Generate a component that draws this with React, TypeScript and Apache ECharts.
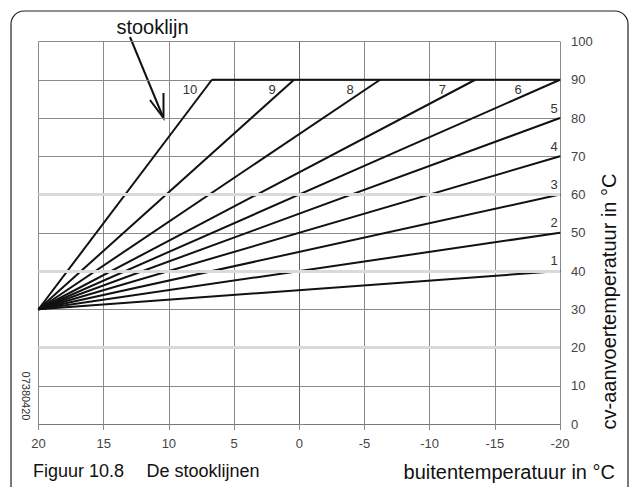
import React, { useEffect, useRef } from "react";
import * as echarts from "echarts";

// ---- data ----
const curveNames = ["1", "2", "3", "4", "5", "6", "7", "8", "9", "10"];
const startOutdoor = 20; // °C outdoor where all curves start
const startFlow = 30; // °C flow temperature at start
const curveEndOutdoor = [-20, -20, -20, -20, -20, -20, -13.5, -6.2, 0.4, 6.7];
const curveEndFlow = [40, 50, 60, 70, 80, 90, 90, 90, 90, 90];
const maxFlow = 90;
const plateauEndOutdoor = -20;
const xTicks = [20, 15, 10, 5, 0, -5, -10, -15, -20];
const yTicks = [0, 10, 20, 30, 40, 50, 60, 70, 80, 90, 100];
const lightRows = [20, 40, 60];

// ---- styles ----
const labelOffsets: [number, number][] = [
  [-6, -11],
  [-6, -10],
  [-6, -10],
  [-6, -10],
  [-6, -10],
  [-42, 10],
  [-33, 10],
  [-30, 10],
  [-22, 10],
  [-22, 10],
];
const FONT = "'Liberation Sans', Arial, Helvetica, sans-serif";

export default function App() {
  const ref = useRef<HTMLDivElement>(null);

  useEffect(() => {
    if (!ref.current) return;
    const chart = echarts.init(ref.current, undefined, { renderer: "svg" });

    const curveSeries = curveNames.map((name, i) => ({
      type: "line",
      name,
      z: 3,
      symbol: "circle",
      symbolSize: 1,
      showSymbol: true,
      itemStyle: { color: "#111" },
      lineStyle: { color: "#111", width: 2 },
      label: { show: false },
      data: [
        [startOutdoor, startFlow],
        {
          value: [curveEndOutdoor[i], curveEndFlow[i]],
          label: {
            show: true,
            formatter: name,
            position: "inside",
            offset: labelOffsets[i],
            color: "#333",
            fontSize: 13,
            fontFamily: FONT,
          },
        },
      ],
    }));

    const plateauSeries = {
      type: "line",
      name: "max",
      z: 3,
      symbol: "none",
      lineStyle: { color: "#111", width: 2 },
      data: [
        [curveEndOutdoor[curveEndOutdoor.length - 1], maxFlow],
        [plateauEndOutdoor, maxFlow],
      ],
    };

    const bandSeries = {
      type: "line",
      name: "bands",
      z: 1,
      data: [],
      markLine: {
        silent: true,
        symbol: ["none", "none"],
        label: { show: false },
        lineStyle: { color: "#dadada", width: 3, type: "solid" },
        data: lightRows.map((v) => ({ yAxis: v })),
      },
    };

    chart.setOption({
      animation: false,
      backgroundColor: "#fff",
      grid: { left: 38.5, right: 69, top: 41.5, bottom: 63 },
      xAxis: {
        type: "value",
        min: xTicks[xTicks.length - 1],
        max: xTicks[0],
        interval: 5,
        inverse: true,
        axisLine: { show: true, lineStyle: { color: "#777", width: 1 } },
        axisTick: { show: true, length: 6, lineStyle: { color: "#888" } },
        axisLabel: {
          color: "#444",
          fontSize: 13,
          fontFamily: FONT,
          margin: 13,
        },
        splitLine: { show: true, lineStyle: { color: "#8a8a8a", width: 1 } },
      },
      yAxis: {
        type: "value",
        position: "right",
        min: yTicks[0],
        max: yTicks[yTicks.length - 1],
        interval: 10,
        axisLine: { show: true, lineStyle: { color: "#666", width: 1 } },
        axisTick: { show: true, length: 5, lineStyle: { color: "#888" } },
        axisLabel: {
          color: "#444",
          fontSize: 13,
          fontFamily: FONT,
          margin: 11,
        },
        splitLine: { show: true, lineStyle: { color: "#8a8a8a", width: 1 } },
      },
      series: [bandSeries, ...curveSeries, plateauSeries],
      graphic: [
        {
          type: "rect",
          silent: true,
          shape: { x: 11, y: 11, width: 617, height: 500, r: 13 },
          style: { fill: "none", stroke: "#222", lineWidth: 1.2 },
        },
        {
          type: "text",
          x: 152.5,
          y: 26.5,
          style: {
            text: "stooklijn",
            fontSize: 20,
            fontFamily: FONT,
            fill: "#111",
            align: "center",
            verticalAlign: "middle",
          },
        },
        {
          type: "line",
          shape: { x1: 130, y1: 37, x2: 163, y2: 117 },
          style: { stroke: "#111", lineWidth: 2 },
        },
        {
          type: "polyline",
          shape: {
            points: [
              [163.5, 93],
              [163.5, 118],
              [150, 100],
            ],
          },
          style: { stroke: "#111", lineWidth: 2, fill: "none" },
        },
        {
          type: "text",
          x: 25.5,
          y: 396,
          rotation: -Math.PI / 2,
          style: {
            text: "07380420",
            fontSize: 11,
            fontFamily: FONT,
            fill: "#333",
            align: "center",
            verticalAlign: "middle",
          },
        },
        {
          type: "text",
          x: 33,
          y: 471,
          style: {
            text: "Figuur 10.8",
            fontSize: 18,
            fontFamily: FONT,
            fill: "#111",
            align: "left",
            verticalAlign: "middle",
          },
        },
        {
          type: "text",
          x: 146.5,
          y: 471,
          style: {
            text: "De stooklijnen",
            fontSize: 18,
            fontFamily: FONT,
            fill: "#111",
            align: "left",
            verticalAlign: "middle",
          },
        },
        {
          type: "text",
          x: 615,
          y: 472,
          style: {
            text: "buitentemperatuur in °C",
            fontSize: 20,
            fontFamily: FONT,
            fill: "#111",
            align: "right",
            verticalAlign: "middle",
          },
        },
        {
          type: "text",
          x: 609,
          y: 301.5,
          rotation: Math.PI / 2,
          style: {
            text: "cv-aanvoertemperatuur in °C",
            fontSize: 20,
            fontFamily: FONT,
            fill: "#111",
            align: "center",
            verticalAlign: "middle",
          },
        },
      ],
    });

    return () => chart.dispose();
  }, []);

  return (
    <div
      ref={ref}
      style={{
        position: "fixed",
        left: 0,
        top: 0,
        width: 629,
        height: 487,
        background: "#fff",
      }}
    />
  );
}
